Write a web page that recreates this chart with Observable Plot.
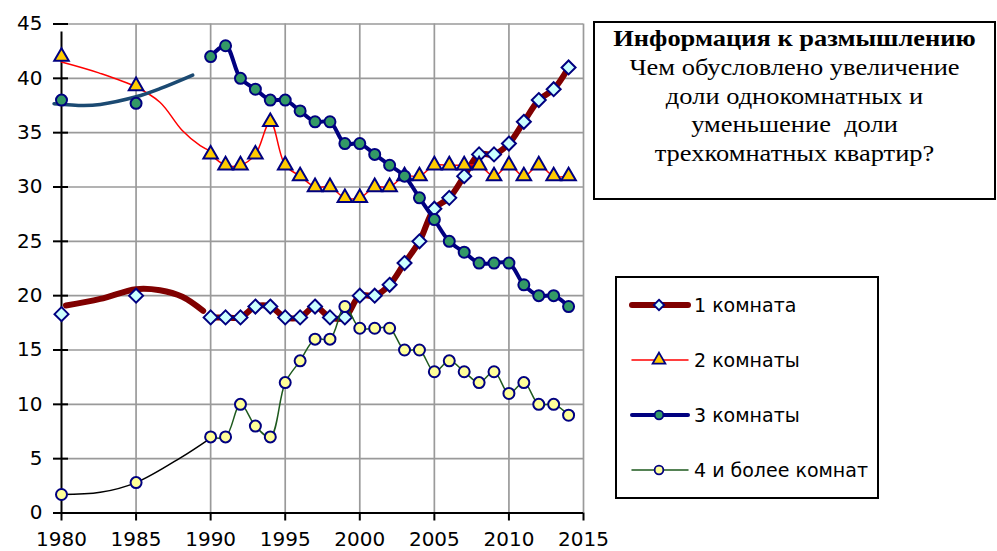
<!DOCTYPE html>
<html><head><meta charset="utf-8">
<script src="https://cdn.jsdelivr.net/npm/d3@7"></script>
<script src="https://cdn.jsdelivr.net/npm/@observablehq/plot@0.6"></script>
<style>
body{margin:0;background:#fff;}
#wrap{position:relative;width:997px;height:551px;overflow:hidden;}
#info{position:absolute;left:593px;top:21px;width:403px;height:179px;box-sizing:border-box;border:2px solid #000;background:#fff;color:#000;}
#info .t{font-family:"Liberation Serif","Times New Roman",serif;font-size:23px;line-height:28.8px;text-align:center;padding-top:2px;
 transform:scaleX(1.15);transform-origin:50% 0;white-space:nowrap;}
#info b{font-weight:bold;}
#legend{position:absolute;left:0;top:0;}
</style></head>
<body><div id="wrap"><div id="chart"></div>
<div id="info"><div class="t"><b>Информация к размышлению</b><br>Чем обусловлено увеличение<br>доли однокомнатных и<br>уменьшение&nbsp; доли<br>трехкомнатных квартир?</div></div>
<svg id="legend" width="997" height="551"></svg>
</div>
<script>
// ---- data ----
const seriesNames = ["1 комната", "2 комнаты", "3 комнаты", "4 и более комнат"];
const earlyYears = [1980, 1985];
const early1 = [18.3, 20];
const early2 = [42, 39.3];
const early3 = [38, 37.7];
const early4 = [1.7, 2.8];

const years = [1990,1991,1992,1993,1994,1995,1996,1997,1998,1999,2000,2001,2002,2003,2004,2005,2006,2007,2008,2009,2010,2011,2012,2013,2014];
const room1 = [18,18,18,19,19,18,18,19,18,18,20,20,21,23,25,28,29,31,33,33,34,36,38,39,41];
const room2 = [33,32,32,33,36,32,31,30,30,29,29,30,30,31,31,32,32,32,32,31,32,31,32,31,31];
const room3 = [42,43,40,39,38,38,37,36,36,34,34,33,32,31,29,27,25,24,23,23,23,21,20,20,19];
const room4 = [7,7,10,8,7,12,14,16,16,19,17,17,17,15,15,13,14,13,12,13,11,12,10,10,9];

// early-period fitted curves
const trend1X = [1980.3, 1982.6, 1985, 1986.6, 1988.1, 1989.5];
const trend1Y = [19.1, 19.7, 20.6, 20.5, 19.9, 18.6];
const trend2X = [1980, 1982.5, 1985, 1986.6, 1988.1, 1989.3, 1990];
const trend2Y = [41.5, 40.5, 39.2, 37.8, 35.2, 33.8, 33.3];
const trend3X = [1979.5, 1981.5, 1982.6, 1985, 1986.6, 1988.8];
const trend3Y = [37.66, 37.5, 37.6, 38.3, 39.05, 40.3];
const trend4X = [1980, 1982.6, 1985, 1988, 1990];
const trend4Y = [1.7, 1.9, 2.8, 5.1, 6.9];

const xTicks = [1980,1985,1990,1995,2000,2005,2010,2015];
const yTicks = [0,5,10,15,20,25,30,35,40,45];

// ---- styles ----
const lineColors = ["#800000", "#FF0000", "#000080", "#1E5A1E"];
const lineWidths = [6, 1.5, 4, 1.5];
const trendColors = ["#800000", "#FF0000", "#1B4A72", "#000000"];
const trendWidths = [6, 1.5, 3.5, 1.5];
const symbols = ["diamond2", "triangle", "circle", "circle"];
const fills = ["#CCFFFF", "#FFCC00", "#339966", "#FFFF99"];
const sizes = [6.3, 5.4, 5.5, 5.5];

const mainVals = [room1, room2, room3, room4];
const earlyVals = [early1, early2, early3, early4];
const trendX = [trend1X, trend2X, trend3X, trend4X];
const trendY = [trend1Y, trend2Y, trend3Y, trend4Y];

const axisFont = "'DejaVu Sans', 'Liberation Sans', Arial, sans-serif";
const marks = [
  Plot.gridX(xTicks.slice(1), {stroke: "#9a9a9a", strokeOpacity: 1, strokeWidth: 1.7}),
  Plot.gridY(yTicks.slice(1), {stroke: "#9a9a9a", strokeOpacity: 1, strokeWidth: 1.7}),
  Plot.ruleX([1980], {y1: 0, y2: 45, stroke: "#000", strokeWidth: 2, insetBottom: -8}),
  Plot.ruleY([0], {x1: 1980, x2: 2015, stroke: "#000", strokeWidth: 2}),
  Plot.axisY(yTicks, {tickSize: 15, dx: 7, tickPadding: 11, stroke: "#000", strokeWidth: 2, fontSize: 20, label: null}),
  Plot.axisX(xTicks, {tickSize: 8, tickPadding: 11, stroke: "#000", strokeWidth: 2, fontSize: 20, tickFormat: d => String(d), label: null})
];

for (let s = 0; s < 4; s++) {
  const trend = trendX[s].map((x, i) => ({x, y: trendY[s][i]}));
  const main = years.map((x, i) => ({x, y: mainVals[s][i]}));
  const pts = earlyYears.map((x, i) => ({x, y: earlyVals[s][i]})).concat(main);
  marks.push(
    Plot.line(trend, {x: "x", y: "y", curve: "catmull-rom", stroke: trendColors[s], strokeWidth: trendWidths[s]}),
    Plot.line(main, {x: "x", y: "y", curve: "catmull-rom", stroke: lineColors[s], strokeWidth: lineWidths[s]}),
    Plot.dot(pts, {x: "x", y: "y", symbol: symbols[s], r: sizes[s], fill: fills[s], stroke: "#000080", strokeWidth: 2})
  );
}

const chart = Plot.plot({
  width: 997, height: 551,
  marginLeft: 61, marginRight: 414, marginTop: 23.5, marginBottom: 38.5,
  x: {domain: [1980, 2015]},
  y: {domain: [0, 45]},
  style: {fontFamily: axisFont, fontSize: "20px", color: "#000", background: "#fff", overflow: "visible"},
  marks
});
document.getElementById("chart").appendChild(chart);

// ---- legend ----
const lg = d3.select("#legend");
lg.append("rect").attr("x", 616).attr("y", 277).attr("width", 262).attr("height", 221)
  .attr("fill", "#fff").attr("stroke", "#000").attr("stroke-width", 2);
const rowY = [305, 360, 415, 470];
const symMap = {diamond2: d3.symbolDiamond2, triangle: d3.symbolTriangle, circle: d3.symbolCircle};
seriesNames.forEach((name, i) => {
  const g = lg.append("g").attr("transform", `translate(0,${rowY[i]})`);
  g.append("line").attr("x1", 632).attr("x2", 688).attr("y1", 0).attr("y2", 0)
    .attr("stroke", lineColors[i]).attr("stroke-width", lineWidths[i]).attr("stroke-linecap", "round");
  g.append("path").attr("transform", "translate(659,0)")
    .attr("d", d3.symbol(symMap[symbols[i]], i === 0 ? 70 : i === 1 ? 70 : 60)())
    .attr("fill", fills[i]).attr("stroke", "#000080").attr("stroke-width", 1.8);
  g.append("text").attr("x", 694).attr("y", 0).attr("dy", "0.36em")
    .attr("font-family", axisFont).attr("font-size", 19).text(name);
});
</script>
</body></html>
